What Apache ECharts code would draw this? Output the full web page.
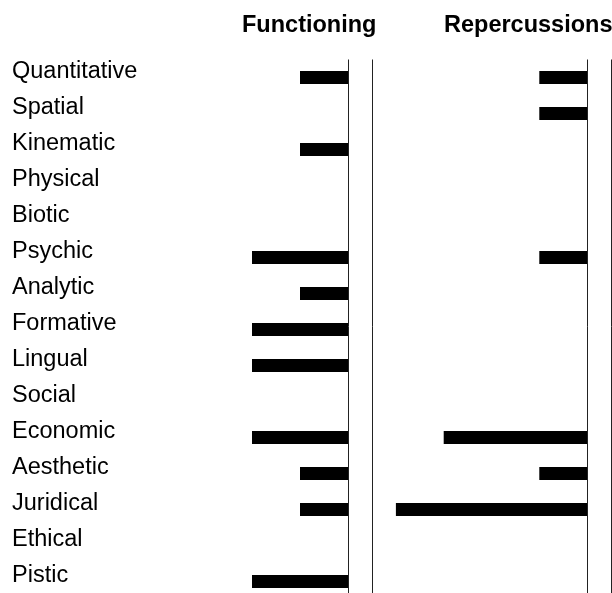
<!DOCTYPE html>
<html>
<head>
<meta charset="utf-8">
<script src="https://cdn.jsdelivr.net/npm/echarts@6/dist/echarts.min.js"></script>
<style>
  html, body { margin: 0; padding: 0; background: #fff; }
  #main { width: 612px; height: 593px; }
</style>
</head>
<body>
<div id="main"></div>
<script>
const aspects = ['Quantitative', 'Spatial', 'Kinematic', 'Physical', 'Biotic', 'Psychic', 'Analytic',
  'Formative', 'Lingual', 'Social', 'Economic', 'Aesthetic', 'Juridical', 'Ethical', 'Pistic']
const functioning = [1, 0, 1, 0, 0, 2, 1, 2, 2, 0, 2, 1, 1, 0, 2]
const repercussions = [1, 1, 0, 0, 0, 1, 0, 0, 0, 0, 3, 1, 4, 0, 0]
const panelTitles = ['Functioning', 'Repercussions']

const myChart = echarts.init(document.getElementById('main'))

// each panel: value axis runs right-to-left, zero sits half a unit from the right edge
function panelSeries(idx, values) {
  return {
    type: 'bar',
    xAxisIndex: idx,
    yAxisIndex: idx,
    barWidth: 13,
    itemStyle: { color: '#000' },
    silent: true,
    data: values,
    markLine: {
      silent: true,
      symbol: 'none',
      label: { show: false },
      lineStyle: { color: '#222', width: 1, type: 'solid' },
      data: [{ xAxis: 0 }, { xAxis: -0.5 }]
    }
  }
}

const option = {
  animation: false,
  backgroundColor: '#fff',
  grid: [
    { left: 132, width: 240, top: 59.5, height: 540, outerBoundsMode: 'none' },
    { left: 372, width: 239, top: 59.5, height: 540, outerBoundsMode: 'none' }
  ],
  xAxis: [0, 1].map(i => ({
    type: 'value',
    gridIndex: i,
    inverse: true,
    min: -0.5,
    max: 4.5,
    show: false
  })),
  yAxis: [0, 1].map(i => ({
    type: 'category',
    gridIndex: i,
    inverse: true,
    data: aspects,
    position: 'left',
    axisLine: { show: false, onZero: false },
    axisTick: { show: false },
    splitLine: { show: false },
    axisLabel: {
      show: i === 0,
      align: 'left',
      verticalAlign: 'bottom',
      lineHeight: 12,
      margin: 120,
      color: '#000',
      fontFamily: 'Liberation Sans, Arial, sans-serif',
      fontSize: 23.5
    }
  })),
  graphic: [
    { type: 'text', x: 242, y: 26, style: { text: panelTitles[0], fill: '#000', font: 'bold 23.5px "Liberation Sans", Arial, sans-serif', verticalAlign: 'middle' } },
    { type: 'text', x: 444, y: 26, style: { text: panelTitles[1], fill: '#000', font: 'bold 23.5px "Liberation Sans", Arial, sans-serif', verticalAlign: 'middle' } }
  ],
  series: [
    panelSeries(0, functioning),
    panelSeries(1, repercussions)
  ]
}
myChart.setOption(option)
window.addEventListener('resize', function() {
  myChart.resize()
})
</script>
</body>
</html>
